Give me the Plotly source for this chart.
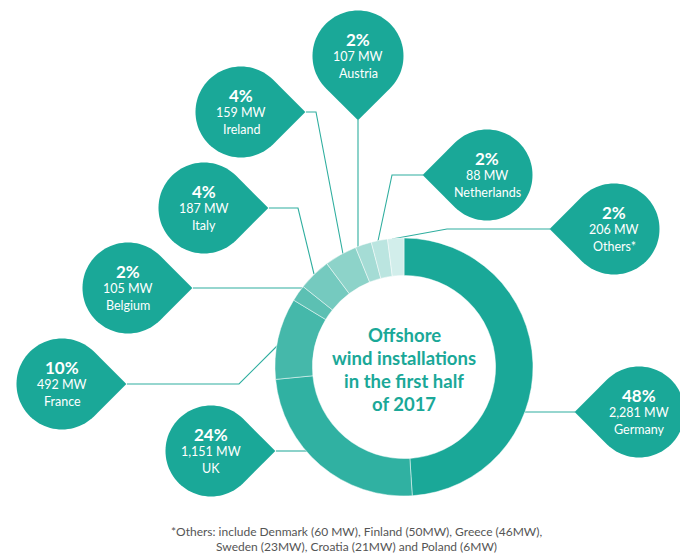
import math
import plotly.graph_objects as go

# ---- data ----
countries = ["Germany", "UK", "France", "Belgium", "Italy", "Ireland",
             "Austria", "Netherlands", "Others*"]
share_pct = [48, 24, 10, 2, 4, 4, 2, 2, 2]
capacity_mw = [2281, 1151, 492, 105, 187, 159, 107, 88, 206]

title_lines = ["Offshore", "wind installations", "in the first half", "of 2017"]
footnote_lines = [
    "*Others: include Denmark (60 MW), Finland (50MW), Greece (46MW),",
    "Sweden (23MW), Croatia (21MW) and Poland (6MW)",
]

# ---- styling ----
W, H = 680, 553
TEAL = "#1aa898"
slice_colors = ["#1aa898", "#30b1a2", "#45b8aa", "#5cc0b3", "#75cabf",
                "#8dd3c9", "#a5dcd5", "#bbe5e0", "#d2eeeb"]
LINE = "#2fae9f"
FONT = "Lato"

# donut placement in pixels (y measured from top)
cx, cy, R = 404, 367, 129

# callout bubbles: centre, tip direction (deg, screen coords), leader polyline
callouts = {
    "Germany":     dict(c=(639, 412), d=180, leader=[(575, 412), (525, 412)]),
    "UK":          dict(c=(211, 451), d=0,   leader=[(276, 451), (307, 451)]),
    "France":      dict(c=(62, 384),  d=0,   leader=[(127, 384), (239, 384), (277, 346)]),
    "Belgium":     dict(c=(128, 288), d=0,   leader=[(193, 288), (302, 288)]),
    "Italy":       dict(c=(204, 208), d=0,   leader=[(269, 208), (298, 208), (314, 274)]),
    "Ireland":     dict(c=(241, 112), d=0,   leader=[(306, 112), (316, 112), (343, 254)]),
    "Austria":     dict(c=(358, 56),  d=90,  leader=[(358, 120), (358, 247)]),
    "Netherlands": dict(c=(487, 175), d=180, leader=[(423, 175), (392, 175), (378, 241)]),
    "Others*":     dict(c=(614, 229), d=180, leader=[(550, 229), (447, 229), (392, 239)]),
}
PIN_R = 45.5


def pin_path(x0, y0, r, direction):
    a = math.radians(direction)
    pts = [(x0 + r * math.sqrt(2) * math.cos(a), y0 + r * math.sqrt(2) * math.sin(a))]
    n = 72
    for k in range(n + 1):
        t = a + math.radians(45) + k * math.radians(270) / n
        pts.append((x0 + r * math.cos(t), y0 + r * math.sin(t)))
    return "M " + " L ".join(f"{x:.2f},{y:.2f}" for x, y in pts) + " Z"


fig = go.Figure()

fig.add_trace(go.Pie(
    labels=countries,
    values=share_pct,
    customdata=capacity_mw,
    sort=False,
    direction="clockwise",
    rotation=0,
    hole=0.71,
    marker=dict(colors=slice_colors, line=dict(color="rgba(255,255,255,0.6)", width=0.8)),
    textinfo="none",
    hovertemplate="%{label}: %{value}%% (%{customdata:,} MW)<extra></extra>",
    showlegend=False,
    domain=dict(x=[(cx - R) / W, (cx + R) / W],
                y=[(H - cy - R) / H, (H - cy + R) / H]),
))

shapes = []
annotations = []

for name, pct, mw in zip(countries, share_pct, capacity_mw):
    spec = callouts[name]
    px, py = spec["c"]
    # leader line
    pts = spec["leader"]
    shapes.append(dict(
        type="path", xref="x", yref="y", layer="below",
        path="M " + " L ".join(f"{x},{y}" for x, y in pts),
        line=dict(color=LINE, width=1.1),
    ))
    # bubble
    shapes.append(dict(
        type="path", xref="x", yref="y", layer="above",
        path=pin_path(px, py, PIN_R, spec["d"]),
        fillcolor=TEAL, line=dict(width=0),
    ))
    annotations += [
        dict(x=px, y=py - 17, text=f"<b>{pct}%</b>", font=dict(size=17, color="white", family=FONT)),
        dict(x=px, y=py, text=f"{mw:,} MW", font=dict(size=12.5, color="white", family=FONT)),
        dict(x=px, y=py + 17, text=name, font=dict(size=12.5, color="white", family=FONT)),
    ]

for i, line in enumerate(title_lines):
    annotations.append(dict(x=cx, y=335 + i * 23, text=f"<b>{line}</b>",
                            font=dict(size=18.5, color=TEAL, family=FONT)))

for i, line in enumerate(footnote_lines):
    annotations.append(dict(x=356, y=531 + i * 15, text=line,
                            font=dict(size=12, color="#555555", family=FONT)))

for a in annotations:
    a.update(xref="x", yref="y", showarrow=False, xanchor="center", yanchor="middle")

fig.update_layout(
    width=W, height=H,
    margin=dict(l=0, r=0, t=0, b=0),
    paper_bgcolor="white", plot_bgcolor="white",
    xaxis=dict(range=[0, W], visible=False, fixedrange=True),
    yaxis=dict(range=[H, 0], visible=False, fixedrange=True),
    shapes=shapes,
    annotations=annotations,
    showlegend=False,
)

fig.write_html("out.html")
